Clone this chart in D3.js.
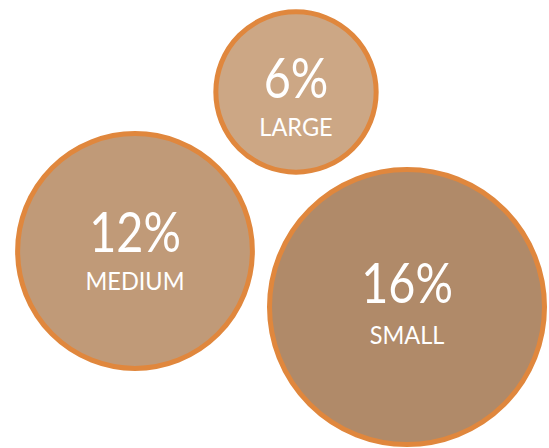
<!DOCTYPE html>
<html>
<head>
<meta charset="utf-8">
<script src="https://cdn.jsdelivr.net/npm/d3@7"></script>
<style>
  html, body { margin: 0; padding: 0; background: #ffffff; }
  svg { display: block; }
</style>
</head>
<body>
<svg id="chart" width="549" height="448"></svg>
<script>
// Data
const categories = ["LARGE", "MEDIUM", "SMALL"];
const values = [6, 12, 16];
const valueLabels = ["6%", "12%", "16%"];

// Layout (bubble centres and text baselines relative to centre, in pixels)
const centersX = [296, 135, 407];
const centersY = [92, 251, 307];
const numberDy = [6, 1, -4];
const labelDy = [44, 39, 37];
const fills = ["#CCA785", "#C09A78", "#B08A69"];

const svg = d3.select("#chart");
const r = d3.scalePow().exponent(0.55).domain([0, 16]).range([0, 137.5]);

const nodes = categories.map((c, i) => ({
  c, v: values[i], label: valueLabels[i],
  x: centersX[i], y: centersY[i], ny: numberDy[i], ly: labelDy[i], fill: fills[i]
}));

const g = svg.selectAll("g.bubble")
  .data(nodes)
  .join("g")
  .attr("class", "bubble")
  .attr("transform", d => `translate(${d.x},${d.y})`);

g.append("circle")
  .attr("r", d => r(d.v))
  .attr("fill", d => d.fill)
  .attr("stroke", "#E0873D")
  .attr("stroke-width", 5);

const t = g.append("text")
  .attr("text-anchor", "middle")
  .attr("fill", "#ffffff")
  .style("font-family", "Lato, 'Open Sans', sans-serif")
  .style("font-weight", 400);

t.append("tspan")
  .attr("class", "num")
  .attr("x", 0)
  .attr("y", d => d.ny)
  .style("font-size", "57px")
  .text(d => d.label);

t.append("tspan")
  .attr("class", "lab")
  .attr("x", 0)
  .attr("y", d => d.ly)
  .style("font-size", "25px")
  .text(d => d.c);

// Narrow the glyphs a little to match the reference's geometric face
t.selectAll("tspan.num").each(function () {
  const len = this.getComputedTextLength();
  d3.select(this).attr("textLength", len * 0.82).attr("lengthAdjust", "spacingAndGlyphs");
});
t.selectAll("tspan.lab").each(function () {
  const len = this.getComputedTextLength();
  d3.select(this).attr("textLength", len * 0.94).attr("lengthAdjust", "spacingAndGlyphs");
});
</script>
</body>
</html>
